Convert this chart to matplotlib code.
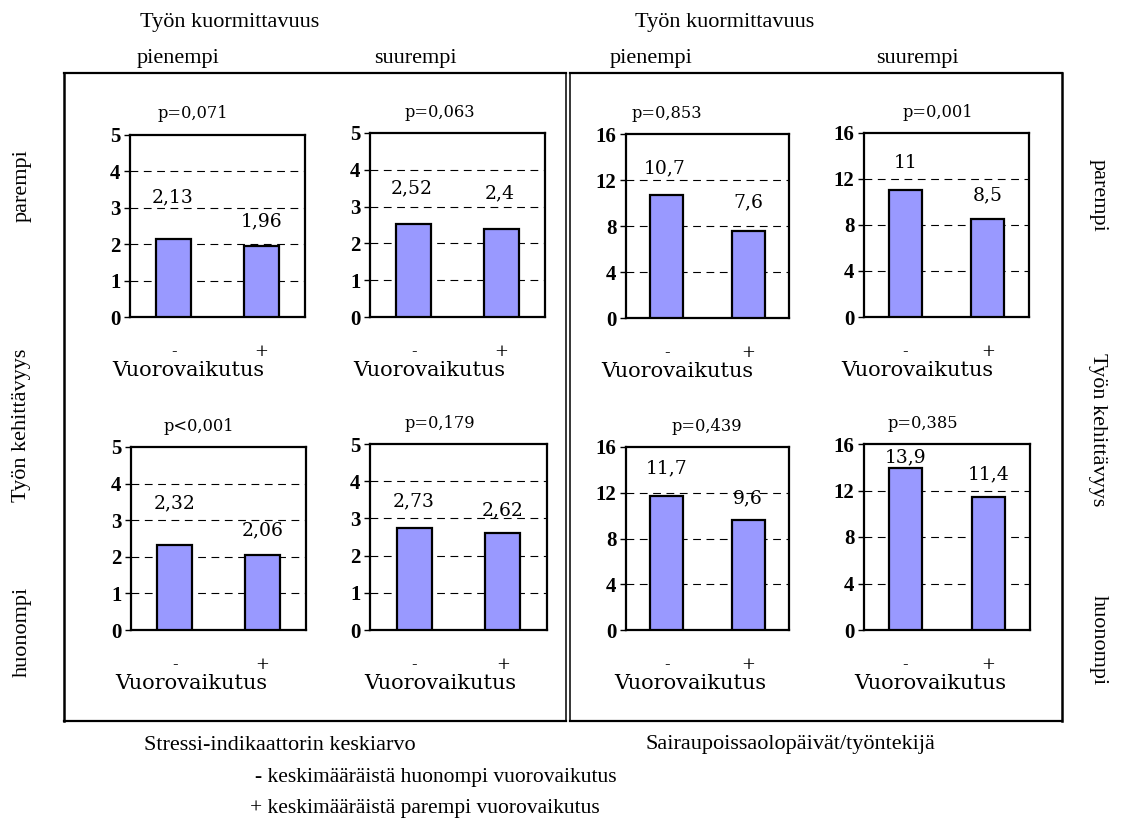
import matplotlib
matplotlib.use("Agg")
import matplotlib.pyplot as plt
from matplotlib.lines import Line2D

W, H = 1121, 822

# mean values per panel: [- vuorovaikutus, + vuorovaikutus]
stress_parempi_pienempi = [2.13, 1.96]
stress_parempi_suurempi = [2.52, 2.40]
stress_huonompi_pienempi = [2.32, 2.06]
stress_huonompi_suurempi = [2.73, 2.62]
sick_parempi_pienempi = [10.7, 7.6]
sick_parempi_suurempi = [11.0, 8.5]
sick_huonompi_pienempi = [11.7, 9.6]
sick_huonompi_suurempi = [13.9, 11.4]

p_labels = ["p=0,071", "p=0,063", "p=0,853", "p=0,001",
            "p<0,001", "p=0,179", "p=0,439", "p=0,385"]
bar_ticks = ["-", "+"]
stress_yticks = [0, 1, 2, 3, 4, 5]
sick_yticks = [0, 4, 8, 12, 16]

SERIF = ["Liberation Serif", "DejaVu Serif"]
LABEL = ["DejaVu Serif"]
BAR_COLOR = "#9999ff"


def fx(x):
    return x / W


def fy(y):
    return 1 - y / H


def fmt(v):
    return f"{v:g}".replace(".", ",")


fig = plt.figure(figsize=(W / 100, H / 100), dpi=100)

# (values, yticks, axes box in px [left, top, right, bottom], p label x, xlabel x, label offsets)
panels = [
    (stress_parempi_pienempi, stress_yticks, (130, 135, 305, 317), 193, 188, [(-1, 42), (0, 24)]),
    (stress_parempi_suurempi, stress_yticks, (370, 133, 545, 317), 440, 429, [(-2, 36), (-2, 35)]),
    (sick_parempi_pienempi, sick_yticks, (626, 134, 789, 318), 667, 677, [(-2, 27), (0, 28)]),
    (sick_parempi_suurempi, sick_yticks, (864, 133, 1029, 317), 938, 917, [(0, 28), (0, 24)]),
    (stress_huonompi_pienempi, stress_yticks, (131, 447, 306, 630), 199, 191, [(0, 42), (0, 24)]),
    (stress_huonompi_suurempi, stress_yticks, (370, 444, 547, 630), 440, 440, [(-1, 27), (0, 22)]),
    (sick_huonompi_pienempi, sick_yticks, (626, 447, 789, 630), 707, 690, [(0, 28), (0, 22)]),
    (sick_huonompi_suurempi, sick_yticks, (864, 444, 1030, 630), 923, 930, [(0, 11), (0, 23)]),
]

for (vals, yt, (l, t, r, b), px_p, px_x, offs), ptxt in zip(panels, p_labels):
    ax = fig.add_axes([fx(l), fy(b), fx(r) - fx(l), fy(t) - fy(b)])
    ax.bar([0, 1], vals, width=0.4, color=BAR_COLOR, edgecolor="black",
           linewidth=1.6, zorder=3)
    ax.set_xlim(-0.5, 1.5)
    ax.set_ylim(yt[0], yt[-1])
    ax.set_yticks(yt)
    ax.set_yticklabels([str(v) for v in yt], fontfamily=SERIF,
                       fontweight="bold", fontsize=15)
    for g in yt[1:-1]:
        ax.axhline(g, color="black", linestyle=(0, (7, 5)), linewidth=0.8, zorder=1)
    ax.set_xticks([0, 1])
    ax.set_xticklabels(bar_ticks, fontfamily=LABEL, fontsize=12)
    ax.tick_params(axis="x", length=0, pad=19)
    ax.tick_params(axis="y", length=4, width=1, pad=3, direction="out")
    for s in ax.spines.values():
        s.set_linewidth(1.6)
    for i, (v, (dx, dy)) in enumerate(zip(vals, offs)):
        ax.annotate(fmt(v), xy=(i, v), xytext=(dx, dy), textcoords="offset pixels",
                    ha="center", va="center", fontfamily=LABEL, fontsize=13.5)
    fig.text(fx(px_p), fy(t - 21), ptxt, ha="center", va="center",
             fontfamily=LABEL, fontsize=11.7)
    fig.text(fx(px_x), fy(b + 53), "Vuorovaikutus", ha="center", va="center",
             fontfamily=LABEL, fontsize=15)

# frames around the two chart groups
frame = dict(color="black", transform=fig.transFigure)
for xs, ys, lw in [
    ((64, 566), (73, 73), 1.6), ((64, 566), (721, 721), 1.6), ((64, 64), (73, 721), 1.8),
    ((566, 566), (73, 721), 1.1), ((570, 570), (73, 721), 1.1),
    ((570, 1062), (73, 73), 1.6), ((570, 1062), (721, 721), 1.6), ((1062, 1062), (73, 721), 1.8),
]:
    fig.add_artist(Line2D([fx(x) for x in xs], [fy(y) for y in ys], linewidth=lw, **frame))

head = dict(ha="center", va="center", fontfamily=SERIF, fontsize=16)
fig.text(fx(230), fy(22), "Työn kuormittavuus", **head)
fig.text(fx(725), fy(22), "Työn kuormittavuus", **head)
fig.text(fx(178), fy(58), "pienempi", **head)
fig.text(fx(415), fy(58), "suurempi", **head)
fig.text(fx(651), fy(58), "pienempi", **head)
fig.text(fx(917), fy(58), "suurempi", **head)

fig.text(fx(22), fy(186), "parempi", rotation=90, **head)
fig.text(fx(22), fy(425), "Työn kehittävyys", rotation=90, **head)
fig.text(fx(22), fy(632), "huonompi", rotation=90, **head)
fig.text(fx(1098), fy(195), "parempi", rotation=-90, **head)
fig.text(fx(1098), fy(430), "Työn kehittävyys", rotation=-90, **head)
fig.text(fx(1098), fy(640), "huonompi", rotation=-90, **head)

fig.text(fx(280), fy(745), "Stressi-indikaattorin keskiarvo", **head)
fig.text(fx(790), fy(745), "Sairaupoissaolopäivät/työntekijä", **head)
fig.text(fx(255), fy(777), "- keskimääräistä huonompi vuorovaikutus",
         ha="left", va="center", fontfamily=SERIF, fontsize=15.5)
fig.text(fx(250), fy(808), "+ keskimääräistä parempi vuorovaikutus",
         ha="left", va="center", fontfamily=SERIF, fontsize=15.5)

fig.savefig("out.png", dpi=100)
